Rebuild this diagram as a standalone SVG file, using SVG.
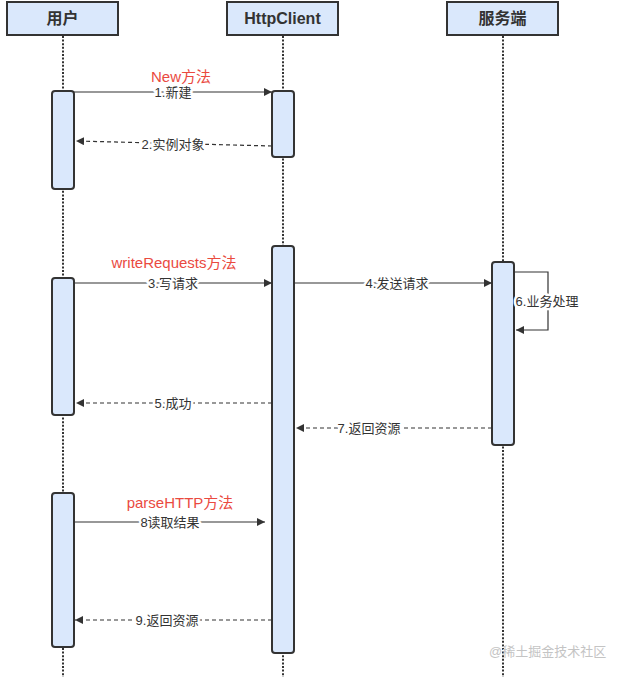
<svg xmlns="http://www.w3.org/2000/svg" width="622" height="677" viewBox="0 0 622 677">
<defs>
<style>
.head{fill:#dae8fc;stroke:#333;stroke-width:2}
.ht{font-family:"Liberation Sans","Noto Sans CJK SC",sans-serif;font-size:16px;font-weight:bold;fill:#333;text-anchor:middle}
.life{stroke:#333;stroke-width:2;stroke-dasharray:2 1.6;fill:none}
.act{fill:#dae8fc;stroke:#333;stroke-width:2}
.msg{stroke:#333;stroke-width:1.2;fill:none}
.ret{stroke:#333;stroke-width:1.2;fill:none;stroke-dasharray:4 3}
.lbl{font-family:"Liberation Sans","Noto Sans CJK SC",sans-serif;font-size:13px;fill:#333;text-anchor:middle;stroke:#fff;stroke-width:5;paint-order:stroke;stroke-linejoin:round}
.red{font-family:"Liberation Sans","Noto Sans CJK SC",sans-serif;font-size:15px;fill:#ea4a3f;text-anchor:middle}
.wm{font-family:"Liberation Sans","Noto Sans CJK SC",sans-serif;font-size:13px;fill:#c4c4c4}
</style>
<marker id="arr" viewBox="0 0 10 10" refX="10" refY="5" markerWidth="8" markerHeight="8" markerUnits="userSpaceOnUse" orient="auto">
<path d="M0,0 L10,5 L0,10 Z" fill="#333"/>
</marker>
</defs>
<rect width="622" height="677" fill="#fff"/>

<g id="lifelines">
<line class="life" x1="63" y1="36" x2="63" y2="677"/>
<line class="life" x1="283" y1="36" x2="283" y2="677"/>
<line class="life" x1="503" y1="36" x2="503" y2="677"/>
</g>

<g id="user">
<rect class="head" x="7" y="2" width="111" height="33"/>
<text class="ht" x="62.5" y="24">用户</text>
</g>
<g id="httpclient">
<rect class="head" x="227" y="2" width="111" height="33"/>
<text class="ht" x="282.5" y="24">HttpClient</text>
</g>
<g id="server">
<rect class="head" x="447" y="2" width="111" height="33"/>
<text class="ht" x="502.5" y="24">服务端</text>
</g>

<g id="activations">
<rect id="act-user-1" class="act" x="52" y="91" width="22" height="98" rx="3"/>
<rect id="act-http-1" class="act" x="272" y="91" width="22" height="66" rx="3"/>
<rect id="act-http-2" class="act" x="272" y="246" width="22" height="407" rx="3"/>
<rect id="act-server-1" class="act" x="492" y="262" width="22" height="183" rx="3"/>
<rect id="act-user-2" class="act" x="52" y="278" width="22" height="137" rx="3"/>
<rect id="act-user-3" class="act" x="52" y="493" width="22" height="154" rx="3"/>
</g>

<g id="connectors">
<line class="msg" x1="74" y1="92" x2="272" y2="92" marker-end="url(#arr)"/>
<line class="ret" x1="272" y1="146" x2="76" y2="141" marker-end="url(#arr)"/>
<line class="msg" x1="74" y1="283" x2="272" y2="283" marker-end="url(#arr)"/>
<line class="msg" x1="294" y1="283" x2="492" y2="283" marker-end="url(#arr)"/>
<polyline class="msg" points="514,272 548,272 548,330 516,330" marker-end="url(#arr)"/>
<line class="ret" x1="272" y1="403" x2="76" y2="403" marker-end="url(#arr)"/>
<line class="ret" x1="492" y1="428" x2="296" y2="428" marker-end="url(#arr)"/>
<line class="msg" x1="74" y1="522" x2="265" y2="522" marker-end="url(#arr)"/>
<line class="ret" x1="272" y1="620" x2="75" y2="620" marker-end="url(#arr)"/>
</g>

<g id="labels">
<text class="red" x="181" y="82">New方法</text>
<text class="lbl" x="173" y="97">1.新建</text>
<text class="lbl" x="173" y="149">2.实例对象</text>
<text class="red" x="174" y="268">writeRequests方法</text>
<text class="lbl" x="173" y="288">3.写请求</text>
<text class="lbl" x="397" y="288">4.发送请求</text>
<text class="lbl" x="547" y="306">6.业务处理</text>
<text class="lbl" x="173" y="408">5.成功</text>
<text class="lbl" x="369" y="433">7.返回资源</text>
<text class="red" x="180" y="508">parseHTTP方法</text>
<text class="lbl" x="170" y="527">8读取结果</text>
<text class="lbl" x="167" y="625">9.返回资源</text>
</g>

<text class="wm" x="489" y="656">@稀土掘金技术社区</text>
</svg>
